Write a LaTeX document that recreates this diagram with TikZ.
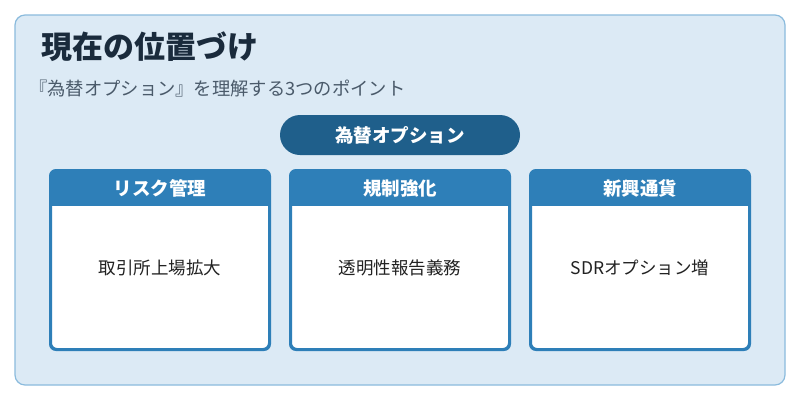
\documentclass[tikz,border=0pt]{standalone}
\usepackage{fontspec}
\setmainfont{Noto Sans CJK JP}
\begin{document}
\begin{tikzpicture}[x=1pt,y=-1pt,
  card/.style={draw=hdr,line width=2pt,fill=white,rounded corners=6pt,minimum width=218pt,minimum height=178pt},
  hdrtxt/.style={text=white,font=\fontsize{18.5}{20}\selectfont\bfseries},
  bodytxt/.style={text=txt,font=\fontsize{17.5}{20}\selectfont}]
\definecolor{bg}{HTML}{DCEAF5}
\definecolor{bd}{HTML}{8BBBDD}
\definecolor{hdr}{HTML}{2E7FB8}
\definecolor{pill}{HTML}{1F5F8B}
\definecolor{ttl}{HTML}{1A2B3C}
\definecolor{sub}{HTML}{4A5A6A}
\definecolor{txt}{HTML}{222222}
\useasboundingbox (0,0) rectangle (800,400);
\fill[white] (0,0) rectangle (800,400);
\draw[bd,fill=bg,line width=1.2pt,rounded corners=10pt] (15,15) rectangle (785,385);
\node[anchor=west,text=ttl,font=\fontsize{31}{34}\selectfont\bfseries,inner sep=0pt] (title) at (41,47) {現在の位置づけ};
\node[anchor=west,text=sub,font=\fontsize{18.3}{20}\selectfont,inner sep=0pt] (subt) at (29,89) {『為替オプション』を理解する3つのポイント};
\node[fill=pill,rounded corners=20pt,minimum width=240pt,minimum height=40pt,hdrtxt] (p) at (400,135) {為替オプション};
\foreach \x/\h/\b/\n in {160/リスク管理/取引所上場拡大/a,400/規制強化/透明性報告義務/b,640/新興通貨/SDRオプション増/c}{
  \node[card] (\n) at (\x,260) {};
  \begin{scope}
  \clip[rounded corners=6pt] (\x-109,171) rectangle (\x+109,349);
  \fill[hdr] (\x-110,170) rectangle (\x+110,206);
  \end{scope}
  \draw[hdr,line width=2pt,rounded corners=6pt] (\x-110,170) rectangle (\x+110,350);
  \node[hdrtxt] (\n h) at (\x,188) {\h};
  \node[bodytxt] (\n b) at (\x,268) {\b};
}
\end{tikzpicture}
\end{document}
